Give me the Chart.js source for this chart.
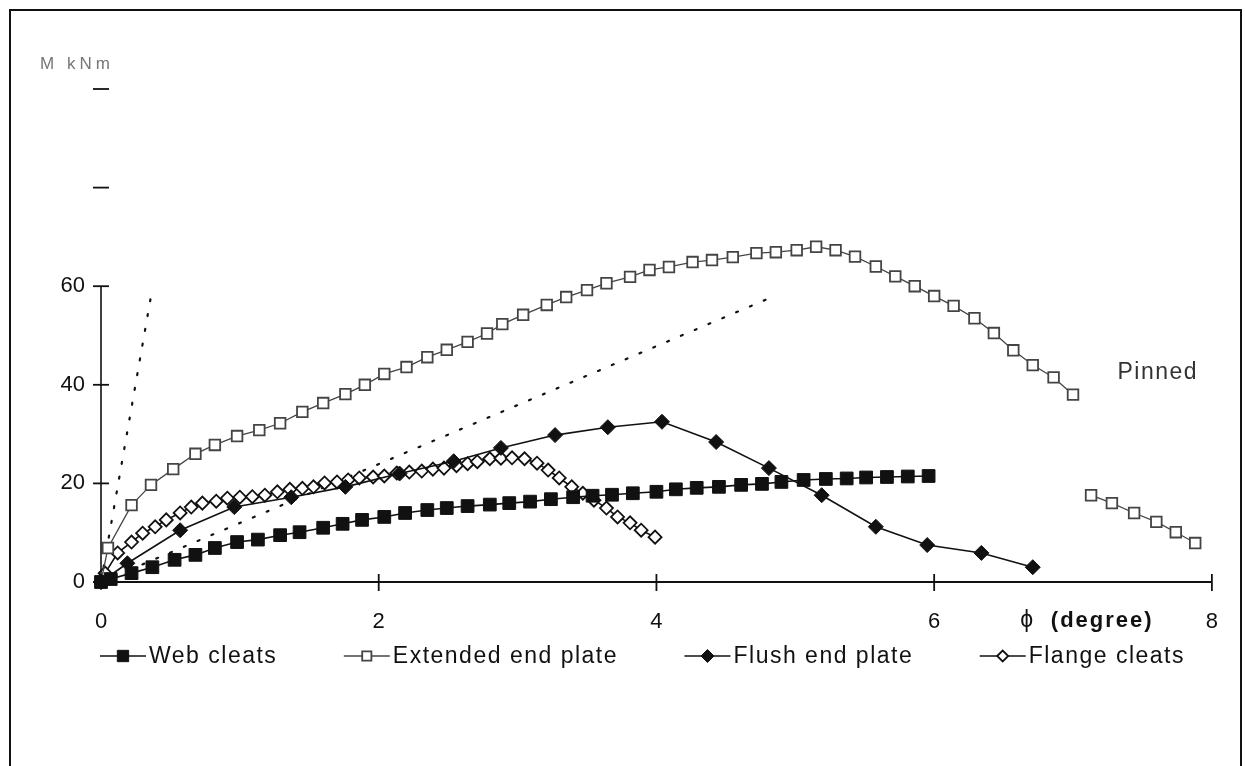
<!DOCTYPE html>
<html>
<head>
<meta charset="utf-8">
<title>Moment-rotation curves</title>
<script src="https://cdn.jsdelivr.net/npm/chart.js@4.4.0/dist/chart.umd.min.js"></script>
<style>
  html, body { margin: 0; padding: 0; background: #fff; }
  #wrap { position: relative; width: 1245px; height: 766px; }
</style>
</head>
<body>
<div id="wrap"><canvas id="mphi-canvas"></canvas></div>
<script>
// rotation phi (degree) / moment M (kNm)
const webX = [0, 0.07, 0.22, 0.37, 0.53, 0.68, 0.82, 0.98, 1.13, 1.29, 1.43, 1.60, 1.74, 1.88, 2.04, 2.19, 2.35, 2.49, 2.64, 2.80,
  2.94, 3.09, 3.24, 3.40, 3.54, 3.68, 3.83, 4.00, 4.14, 4.29, 4.45, 4.61, 4.76, 4.90, 5.06, 5.22, 5.37, 5.51, 5.66, 5.81, 5.96];
const webY = [0, 0.6, 1.8, 3.0, 4.5, 5.5, 6.9, 8.1, 8.6, 9.5, 10.1, 11.0, 11.8, 12.6, 13.2, 14.0, 14.6, 15.0, 15.4, 15.7,
  16.0, 16.3, 16.8, 17.2, 17.5, 17.7, 18.0, 18.3, 18.8, 19.1, 19.3, 19.7, 19.9, 20.3, 20.7, 20.9, 21.0, 21.2, 21.3, 21.4, 21.5];

const extX = [0, 0.05, 0.22, 0.36, 0.52, 0.68, 0.82, 0.98, 1.14, 1.29, 1.45, 1.60, 1.76, 1.90, 2.04, 2.20, 2.35, 2.49, 2.64, 2.78,
  2.89, 3.04, 3.21, 3.35, 3.50, 3.64, 3.81, 3.95, 4.09, 4.26, 4.40, 4.55, 4.72, 4.86, 5.01, 5.15, 5.29, 5.43, 5.58, 5.72,
  5.86, 6.00, 6.14, 6.29, 6.43, 6.57, 6.71, 6.86, 7.00, 7.06, 7.13, 7.28, 7.44, 7.60, 7.74, 7.88];
const extY = [0, 6.9, 15.6, 19.7, 22.9, 26.0, 27.8, 29.6, 30.8, 32.2, 34.5, 36.3, 38.1, 40.0, 42.2, 43.6, 45.6, 47.1, 48.7, 50.4,
  52.3, 54.2, 56.2, 57.8, 59.2, 60.6, 61.9, 63.3, 63.9, 64.9, 65.3, 65.9, 66.7, 66.9, 67.3, 68.0, 67.3, 66.0, 64.0, 62.0,
  60.0, 58.0, 56.0, 53.5, 50.5, 47.0, 44.0, 41.5, 38.0, null, 17.6, 16.0, 14.0, 12.2, 10.1, 7.9];

const flushX = [0, 0.19, 0.57, 0.96, 1.37, 1.76, 2.15, 2.54, 2.88, 3.27, 3.65, 4.04, 4.43, 4.81, 5.19, 5.58, 5.95, 6.34, 6.71];
const flushY = [0, 3.8, 10.5, 15.2, 17.2, 19.3, 22.0, 24.5, 27.2, 29.8, 31.4, 32.5, 28.4, 23.1, 17.6, 11.2, 7.5, 5.9, 3.0];

const flangeX = [0, 0.03, 0.12, 0.22, 0.30, 0.39, 0.47, 0.57, 0.65, 0.73, 0.83, 0.91, 1.00, 1.09, 1.18, 1.27, 1.36, 1.45, 1.53, 1.61,
  1.70, 1.78, 1.86, 1.96, 2.04, 2.13, 2.22, 2.31, 2.39, 2.47, 2.56, 2.64, 2.71, 2.80, 2.88, 2.96, 3.05, 3.14, 3.22, 3.30,
  3.39, 3.47, 3.55, 3.64, 3.72, 3.81, 3.89, 3.99];
const flangeY = [0, 1.8, 5.9, 8.1, 9.9, 11.2, 12.6, 14.0, 15.2, 16.0, 16.4, 17.0, 17.2, 17.3, 17.6, 18.3, 18.8, 19.0, 19.3, 20.1,
  20.3, 20.7, 21.1, 21.3, 21.5, 22.1, 22.3, 22.5, 22.9, 23.1, 23.6, 24.0, 24.4, 25.0, 25.1, 25.2, 25.0, 24.1, 22.7, 21.1,
  19.3, 18.0, 16.6, 15.0, 13.2, 12.0, 10.5, 9.1];

// dotted stiffness lines from the origin
const rigidLineX = [0, 0.36];
const rigidLineY = [0, 58];
const pinnedLineX = [0, 4.85];
const pinnedLineY = [0, 58];

const seriesNames = ['Web cleats', 'Extended end plate', 'Flush end plate', 'Flange cleats'];
const xTicks = [0, 2, 4, 6, 8];
const yTicks = [0, 20, 40, 60, 80, 100];
const yLabelled = [0, 20, 40, 60];

const toPoints = (xs, ys) => xs.map((x, i) => ({ x: x, y: ys[i] }));

const FONT = "'Liberation Sans', Arial, sans-serif";
const INK = '#111';

function markerSet(style, radius, filled, color) {
    return {
        pointStyle: style,
        pointRadius: radius,
        pointHoverRadius: radius,
        pointBackgroundColor: filled ? color : '#fff',
        pointBorderColor: color,
        pointBorderWidth: filled ? 1 : 1.8
    };
}

const datasets = [
    Object.assign({ label: seriesNames[0], data: toPoints(webX, webY), borderColor: INK, borderWidth: 1.6 },
        markerSet('rect', 9, true, INK)),
    Object.assign({ label: seriesNames[1], data: toPoints(extX, extY), borderColor: '#444', borderWidth: 1.3 },
        markerSet('rect', 7.5, false, '#444')),
    Object.assign({ label: seriesNames[2], data: toPoints(flushX, flushY), borderColor: INK, borderWidth: 1.6 },
        markerSet('rectRot', 7.5, true, INK)),
    Object.assign({ label: seriesNames[3], data: toPoints(flangeX, flangeY), borderColor: INK, borderWidth: 1.6 },
        markerSet('rectRot', 6.5, false, INK)),
    { label: 'rigid', data: toPoints(rigidLineX, rigidLineY), borderColor: INK, borderWidth: 2.2,
      borderDash: [2, 13], borderCapStyle: 'round', pointRadius: 0 },
    { label: 'pinned', data: toPoints(pinnedLineX, pinnedLineY), borderColor: INK, borderWidth: 2.2,
      borderDash: [2, 13], borderCapStyle: 'round', pointRadius: 0 }
];
datasets.forEach(d => { d.tension = 0; d.spanGaps = false; d.clip = false; d.fill = false; });

// frame, axis crosses, free texts and the legend row
const decorPlugin = {
    id: 'decor',
    afterDraw(chart) {
        const { ctx, scales } = chart;
        const x = scales.x, y = scales.y;
        const x0 = x.getPixelForValue(0);
        const y0 = y.getPixelForValue(0);
        ctx.save();

        // scan frame
        ctx.strokeStyle = INK;
        ctx.lineWidth = 2;
        ctx.beginPath();
        ctx.moveTo(10, 766); ctx.lineTo(10, 10); ctx.lineTo(1241, 10); ctx.lineTo(1241, 766);
        ctx.stroke();

        // y axis line only up to 60
        ctx.lineWidth = 1.6;
        ctx.beginPath();
        ctx.moveTo(x0, y0); ctx.lineTo(x0, y.getPixelForValue(60));
        ctx.stroke();

        ctx.lineWidth = 1.8;
        yTicks.forEach(v => {
            const py = y.getPixelForValue(v);
            ctx.beginPath(); ctx.moveTo(x0 - 8, py); ctx.lineTo(x0 + 8, py); ctx.stroke();
        });
        xTicks.forEach(v => {
            if (v === 0) return;
            const px = x.getPixelForValue(v);
            ctx.beginPath(); ctx.moveTo(px, y0 - 8); ctx.lineTo(px, y0 + 9); ctx.stroke();
        });

        // texts
        ctx.fillStyle = INK;
        ctx.textBaseline = 'middle';
        ctx.textAlign = 'left';
        ctx.font = '23px ' + FONT;
        ctx.fillText('\u03D5', x.getPixelForValue(6.62), 621);
        ctx.font = 'bold 22px ' + FONT;
        ctx.letterSpacing = '2px';
        ctx.fillText('(degree)', x.getPixelForValue(6.84), 621);
        ctx.font = '23px ' + FONT;
        ctx.letterSpacing = '1.5px';
        ctx.fillStyle = '#333';
        ctx.fillText('Pinned', x.getPixelForValue(7.32), y.getPixelForValue(42.5));
        ctx.font = '17px ' + FONT;
        ctx.letterSpacing = '4px';
        ctx.fillStyle = '#777';
        ctx.fillText('M kNm', 40, 64);

        // legend
        const legendY = 656;
        const symW = 46, textGap = 3;
        ctx.font = '23px ' + FONT;
        ctx.letterSpacing = '1.5px';
        const widths = seriesNames.map(n => ctx.measureText(n).width);
        const used = widths.reduce((a, b) => a + b, 0) + seriesNames.length * (symW + textGap);
        const gap = (1085 - used) / (seriesNames.length - 1);
        let cx = 100;
        seriesNames.forEach((name, i) => {
            const ds = chart.data.datasets[i];
            ctx.strokeStyle = ds.borderColor;
            ctx.lineWidth = 1.6;
            ctx.beginPath(); ctx.moveTo(cx, legendY); ctx.lineTo(cx + symW, legendY); ctx.stroke();
            ctx.fillStyle = ds.pointBackgroundColor;
            ctx.strokeStyle = ds.pointBorderColor;
            ctx.lineWidth = ds.pointBorderWidth;
            Chart.helpers.drawPoint(ctx, { pointStyle: ds.pointStyle, radius: ds.pointRadius - 1,
                borderWidth: ds.pointBorderWidth, rotation: 0 }, cx + symW / 2, legendY);
            ctx.fillStyle = INK;
            ctx.fillText(name, cx + symW + textGap, legendY + 1);
            cx += symW + textGap + widths[i] + gap;
        });
        ctx.restore();
    }
};

new Chart(document.getElementById('mphi-canvas'), {
    type: 'line',
    data: { datasets: datasets },
    plugins: [decorPlugin],
    options: {
        responsive: true,
        maintainAspectRatio: false,
        animation: false,
        events: [],
        layout: { padding: { left: 0, right: 33, top: 89, bottom: 124 } },
        plugins: {
            legend: { display: false },
            tooltip: { enabled: false }
        },
        scales: {
            x: {
                type: 'linear',
                min: 0,
                max: 8,
                afterBuildTicks: (scale) => { scale.ticks = xTicks.map(v => ({ value: v })); },
                afterFit: (scale) => { scale.height = 60; },
                grid: { display: false, drawTicks: false },
                border: { display: true, color: INK, width: 2 },
                ticks: { color: INK, padding: 27, maxRotation: 0, font: { family: FONT, size: 22 } }
            },
            y: {
                type: 'linear',
                min: 0,
                max: 100,
                afterBuildTicks: (scale) => { scale.ticks = yTicks.map(v => ({ value: v })); },
                afterFit: (scale) => { scale.width = 101; },
                grid: { display: false, drawTicks: false },
                border: { display: false },
                ticks: {
                    color: INK,
                    padding: 16,
                    font: { family: FONT, size: 22 },
                    callback: (v) => yLabelled.includes(v) ? String(v) : ''
                }
            }
        }
    }
});
</script>
</body>
</html>
